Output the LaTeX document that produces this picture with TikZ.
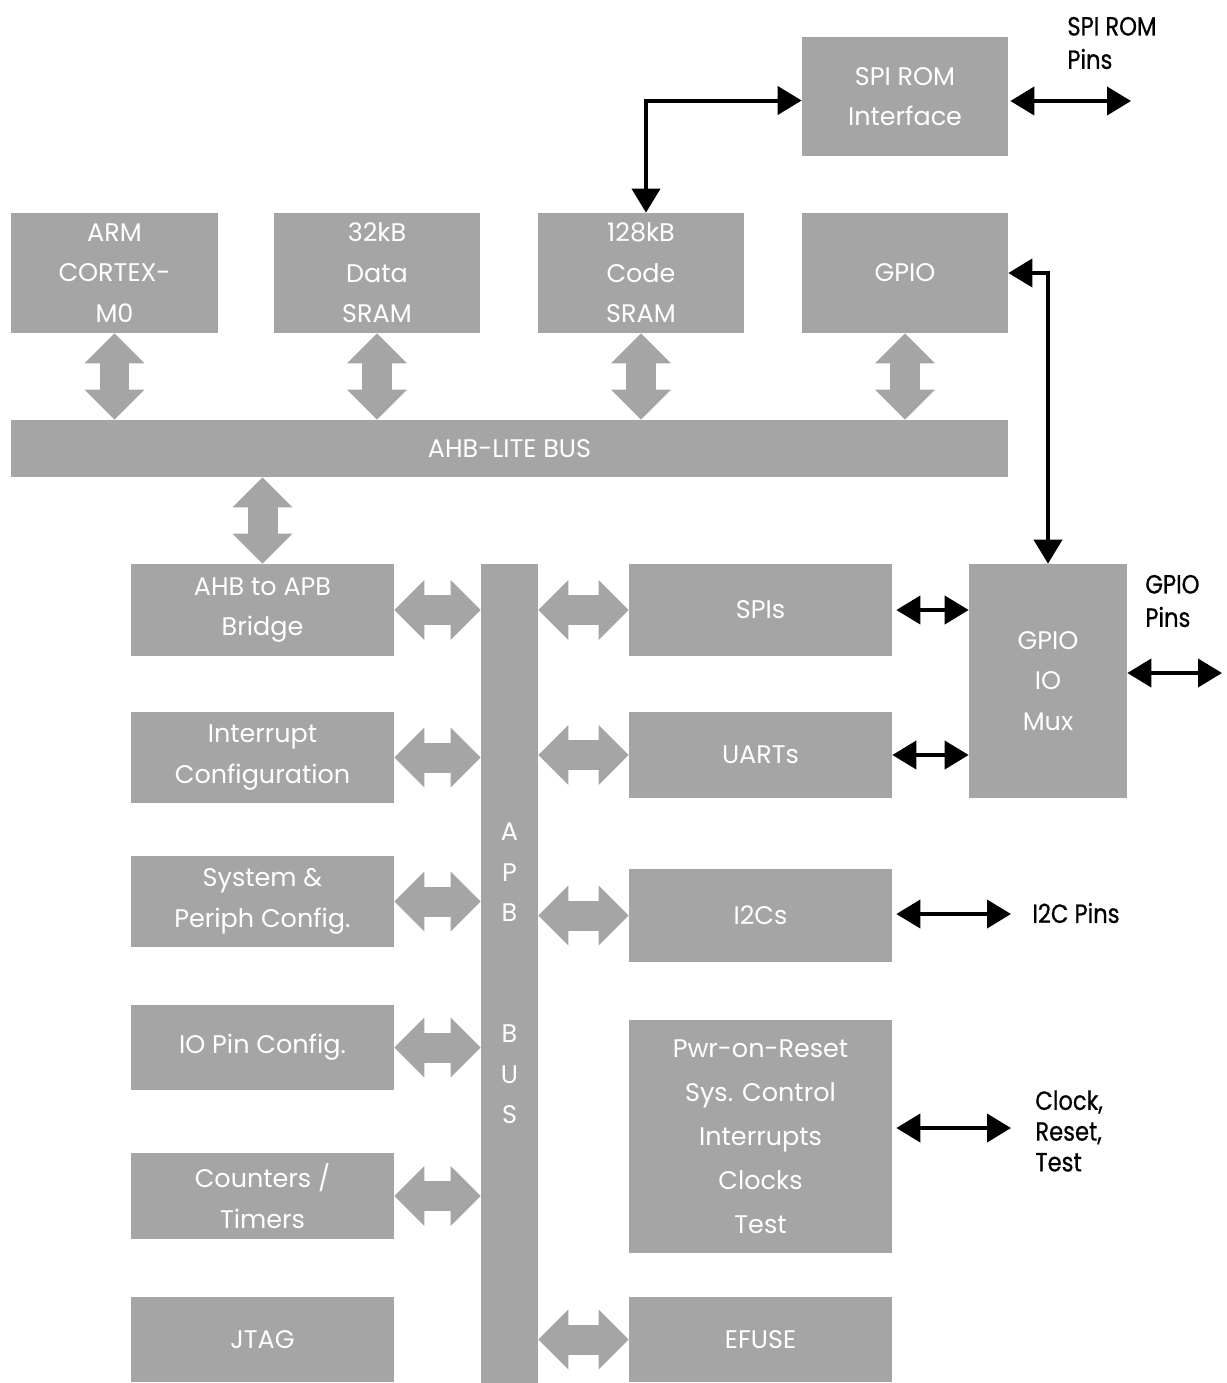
\documentclass[tikz,border=0pt]{standalone}
\usepackage{fontspec}
\setmainfont{Poppins}
\newfontfamily\pinfont[FakeStretch=0.86,FakeBold=0.6]{Poppins}
\usepackage{tikz}
\usetikzlibrary{positioning}
\usetikzlibrary{arrows.meta}

\definecolor{boxgray}{RGB}{165,165,165}

\tikzset{
  blk/.style={rectangle, fill=boxgray, text=white, align=center, inner sep=0pt,
              font=\fontsize{14.5}{23}\selectfont},
  fat/.style={draw=boxgray, line width=0.6cm,
              {Triangle[length=0.6cm,width=1.16cm]}-{Triangle[length=0.6cm,width=1.16cm]}},
  link/.style={draw=black, line width=0.08cm,
              {Triangle[length=0.48cm,width=0.56cm]}-{Triangle[length=0.48cm,width=0.56cm]}},
  pins/.style={anchor=west, align=left, inner sep=0pt,
              font=\pinfont\fontsize{15}{19}\selectfont}
}

\begin{document}
\begin{tikzpicture}[x=0.02cm, y=-0.02cm]
            \useasboundingbox (0,0) rectangle (1227,1383);

            % top row
            \node (spirom) at (905,96.5) [blk, minimum width=4.12cm, minimum height=2.38cm]{SPI ROM\\Interface};
            \node (arm) at (114.5,273) [blk, minimum width=4.14cm, minimum height=2.4cm]{ARM\\CORTEX-\\M0};
            \node (dsram) at (377,273) [blk, minimum width=4.12cm, minimum height=2.4cm]{32kB\\Data\\SRAM};
            \node (csram) at (641,273) [blk, minimum width=4.12cm, minimum height=2.4cm]{128kB\\Code\\SRAM};
            \node (gpio) at (905,273) [blk, minimum width=4.12cm, minimum height=2.4cm]{GPIO};
            \node (ahb) at (509.5,448.5) [blk, minimum width=19.94cm, minimum height=1.14cm]{AHB-LITE BUS};

            % left column
            \node (bridge) at (262.5,610) [blk, minimum width=5.26cm, minimum height=1.84cm]{AHB to APB\\Bridge};
            \node (intr) at (262.5,757.5) [blk, minimum width=5.26cm, minimum height=1.82cm]{Interrupt\\Configuration};
            \node (sysc) at (262.5,901.5) [blk, minimum width=5.26cm, minimum height=1.82cm]{System \&\\Periph Config.};
            \node (iopin) at (262.5,1047.5) [blk, minimum width=5.26cm, minimum height=1.7cm]{IO Pin Config.};
            \node (ctr) at (262.5,1196) [blk, minimum width=5.26cm, minimum height=1.72cm]{Counters /\\Timers};
            \node (jtag) at (262.5,1339.5) [blk, minimum width=5.26cm, minimum height=1.7cm]{JTAG};

            % APB bus
            \node (apb) at (509.5,973.5) [blk, minimum width=1.14cm, minimum height=16.38cm]{A\\P\\B\\[46pt]B\\U\\S};

            % right column
            \node (spis) at (760.5,610) [blk, minimum width=5.26cm, minimum height=1.84cm]{SPIs};
            \node (uarts) at (760.5,755) [blk, minimum width=5.26cm, minimum height=1.72cm]{UARTs};
            \node (i2cs) at (760.5,915.5) [blk, minimum width=5.26cm, minimum height=1.86cm]{I2Cs};
            \node (pwr) at (760.5,1136.5) [blk, minimum width=5.26cm, minimum height=4.66cm,
                font=\fontsize{14.5}{25}\selectfont]{Pwr-on-Reset\\Sys. Control\\Interrupts\\Clocks\\Test};
            \node (efuse) at (760.5,1339.5) [blk, minimum width=5.26cm, minimum height=1.7cm]{EFUSE};
            \node (mux) at (1048,681) [blk, minimum width=3.16cm, minimum height=4.68cm]{GPIO\\IO\\Mux};

            % pin labels
            \node (spipinlbl) at (1067,43) [pins]{SPI ROM\\Pins};
            \node (gpiopinlbl) at (1145,601) [pins]{GPIO\\Pins};
            \node (i2cpinlbl) at (1032,913) [pins]{I2C Pins};
            \node (clkpinlbl) at (1035,1131) [pins, font=\pinfont\fontsize{15}{17.5}\selectfont]{Clock,\\Reset,\\Test};

            \coordinate (spipins) at (1131,101);
            \coordinate (gpiopins) at (1222,673);
            \coordinate (i2cpins) at (1011,914);
            \coordinate (clkpins) at (1011,1128);

            % AHB connections
            \draw[fat] (arm.south) -- (arm.south |- ahb.north);
            \draw[fat] (dsram.south) -- (dsram.south |- ahb.north);
            \draw[fat] (csram.south) -- (csram.south |- ahb.north);
            \draw[fat] (gpio.south) -- (gpio.south |- ahb.north);
            \draw[fat] (bridge.north |- ahb.south) -- (bridge.north);

            % APB connections
            \foreach \blkname in {bridge, intr, sysc, iopin, ctr}
                \draw[fat] (\blkname.east) -- (\blkname.east -| apb.west);
            \foreach \blkname in {spis, uarts, i2cs, efuse}
                \draw[fat] (\blkname.west -| apb.east) -- (\blkname.west);

            % pin connections
            \draw[link] ([xshift=0.1cm]csram.north) |- ([yshift=-0.08cm]spirom.west);
            \draw[link] ([xshift=0.04cm]spirom.east |- spipins) -- (spipins);
            \draw[link] (gpio.east) -| (mux.north);
            \draw[link] ([xshift=0.08cm]spis.east) -- (spis.east -| mux.west);
            \draw[link] (uarts.east) -- (uarts.east -| mux.west);
            \draw[link] (mux.east |- gpiopins) -- (gpiopins);
            \draw[link] ([xshift=0.08cm]i2cs.east |- i2cpins) -- (i2cpins);
            \draw[link] ([xshift=0.08cm]pwr.east |- clkpins) -- (clkpins);

        \end{tikzpicture}
\end{document}
